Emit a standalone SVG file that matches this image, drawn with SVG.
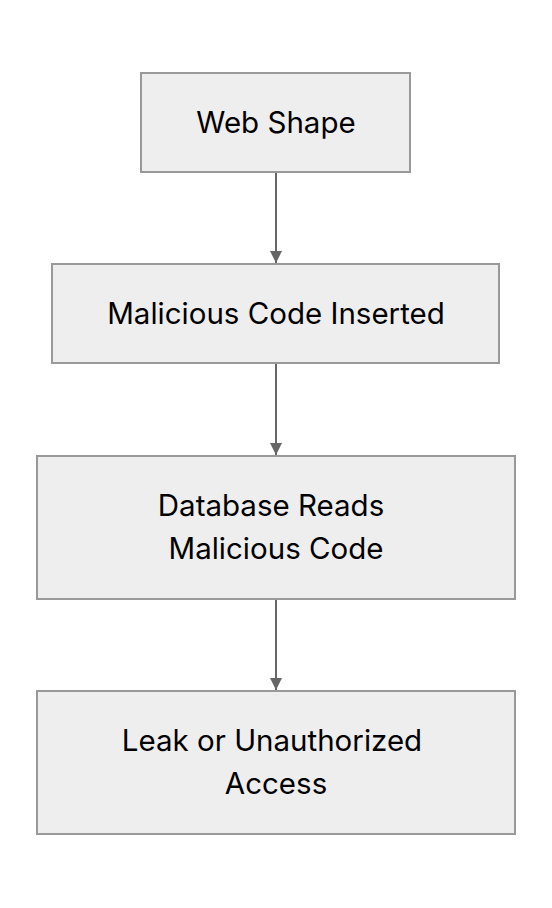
<svg xmlns="http://www.w3.org/2000/svg" width="552" height="908" viewBox="0 0 552 908">
<defs>
<style>
.box{fill:#eeeeee;stroke:#999999;stroke-width:2}
.t{font-family:Inter,"Noto Sans","Liberation Sans",sans-serif;font-size:29.5px;fill:#000;text-anchor:middle}
.e{stroke:#666666;stroke-width:2;fill:none}
</style>
<marker id="ah" viewBox="0 0 10 10" refX="10" refY="5" markerWidth="7" markerHeight="6" markerUnits="strokeWidth" orient="auto">
<path d="M0,0 L10,5 L0,10 z" fill="#666666"/>
</marker>
</defs>
<rect width="552" height="908" fill="#ffffff"/>
<g id="connectors">
<line class="e" x1="276" y1="173" x2="276" y2="263" marker-end="url(#ah)"/>
<line class="e" x1="276" y1="364" x2="276" y2="455" marker-end="url(#ah)"/>
<line class="e" x1="276" y1="600" x2="276" y2="690" marker-end="url(#ah)"/>
</g>
<g id="n1">
<rect class="box" x="141" y="73" width="269" height="99"/>
<text class="t" x="276" y="133">Web Shape</text>
</g>
<g id="n2">
<rect class="box" x="52" y="264" width="447" height="99"/>
<text class="t" x="276" y="324">Malicious Code Inserted</text>
</g>
<g id="n3">
<rect class="box" x="37" y="456" width="478" height="143"/>
<text class="t" x="271" y="516">Database Reads</text>
<text class="t" x="276" y="559">Malicious Code</text>
</g>
<g id="n4">
<rect class="box" x="37" y="691" width="478" height="143"/>
<text class="t" x="272" y="751">Leak or Unauthorized</text>
<text class="t" x="276" y="794">Access</text>
</g>
</svg>
